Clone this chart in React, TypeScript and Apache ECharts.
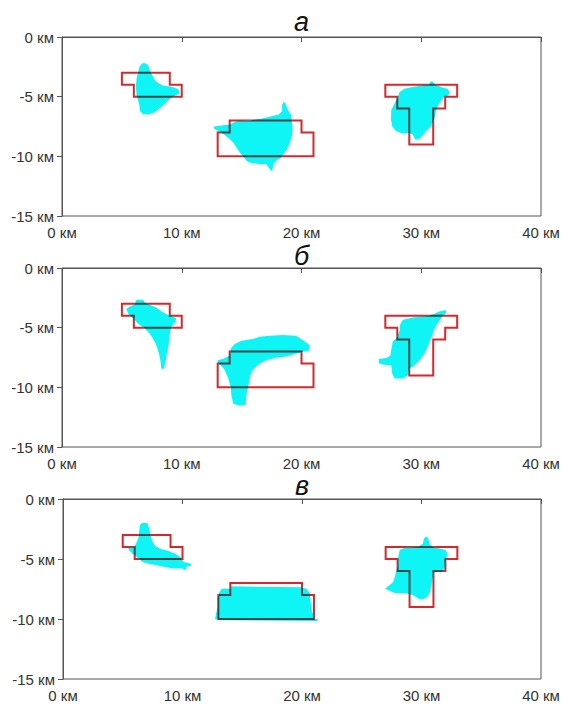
import React, { useEffect, useRef } from "react";
import * as echarts from "echarts";

// Panel titles
const panelTitles = ["а", "б", "в"];

// Axis ticks
const xTicks = [0, 10, 20, 30, 40];
const yTicks = [0, -5, -10, -15];

// True bodies (red outlines), km: [x, depth]
const body1Outline = [[5, -3], [9, -3], [9, -4], [10, -4], [10, -5], [6, -5], [6, -4], [5, -4]];
const body2Outline = [[14, -7], [20, -7], [20, -8], [21, -8], [21, -10], [13, -10], [13, -8], [14, -8]];
const body3Outline = [[27, -4], [33, -4], [33, -5], [32, -5], [32, -6], [31, -6], [31, -9], [29, -9], [29, -6], [28, -6], [28, -5], [27, -5]];

// Panel а: recovered bodies (cyan)
const blobA1 = [[6.91, -2.21], [7.19, -2.34], [7.32, -2.75], [7.46, -3.03], [7.73, -3.58], [8.0, -3.85], [8.42, -4.07], [9.23, -4.18], [9.73, -4.4], [9.84, -4.73], [9.37, -4.95], [8.96, -5.22], [8.55, -5.63], [8.14, -5.99], [7.73, -6.32], [7.32, -6.45], [6.78, -6.5], [6.5, -6.18], [6.45, -5.63], [6.23, -4.95], [6.17, -4.12], [6.23, -3.44], [6.37, -2.89], [6.5, -2.42], [6.72, -2.21]];
const blobA2 = [[12.7, -7.52], [12.7, -7.69], [13.06, -7.88], [13.33, -8.02], [13.6, -8.24], [13.97, -8.52], [14.3, -8.85], [14.57, -9.26], [14.85, -9.67], [15.18, -10.09], [15.54, -10.5], [16.5, -10.64], [17.05, -10.64], [17.33, -11.05], [17.55, -11.27], [17.66, -10.64], [17.88, -10.36], [18.3, -10.09], [18.71, -9.53], [18.99, -8.98], [19.2, -8.29], [19.26, -7.61], [19.12, -6.5], [18.85, -6.09], [18.71, -5.67], [18.52, -5.4], [18.38, -5.67], [18.38, -6.23], [18.1, -6.5], [17.47, -6.64], [16.92, -6.78], [15.68, -7.0], [14.57, -7.06], [14.0, -7.33], [13.33, -7.41], [12.8, -7.47]];
const blobA3 = [[30.94, -3.7], [31.07, -3.92], [31.62, -4.19], [32.17, -4.33], [32.37, -4.6], [32.26, -4.88], [31.9, -5.02], [31.49, -5.57], [31.21, -6.25], [31.07, -6.94], [30.8, -7.49], [30.39, -7.9], [30.06, -8.31], [29.78, -8.59], [29.5, -8.59], [29.28, -8.18], [29.01, -8.04], [28.46, -8.09], [27.91, -7.9], [27.58, -7.49], [27.47, -6.94], [27.5, -6.12], [27.77, -5.57], [28.05, -5.02], [28.18, -4.6], [28.6, -4.33], [29.28, -4.19], [30.11, -4.05], [30.66, -3.97], [30.8, -3.7]];

// Panel б
const blobB1 = [[6.23, -2.67], [6.78, -2.67], [6.91, -2.89], [7.32, -3.08], [7.87, -3.3], [8.28, -3.63], [8.69, -3.85], [9.23, -4.07], [9.56, -4.26], [9.45, -4.53], [9.23, -4.81], [9.1, -5.08], [8.96, -5.77], [8.91, -6.45], [8.74, -7.27], [8.63, -7.96], [8.47, -8.51], [8.28, -8.37], [8.23, -7.82], [8.09, -7.14], [7.87, -6.45], [7.6, -5.9], [7.27, -5.44], [6.91, -5.08], [6.37, -4.67], [5.96, -4.26], [5.55, -3.85], [5.36, -3.44], [5.63, -3.25], [6.09, -3.03], [6.17, -2.75]];
const blobB2 = [[14.43, -6.37], [14.99, -6.09], [15.95, -5.95], [16.5, -5.76], [17.33, -5.68], [18.43, -5.62], [19.54, -5.68], [19.95, -5.95], [20.37, -6.23], [20.7, -6.5], [20.64, -6.92], [20.23, -7.0], [19.54, -7.19], [18.71, -7.41], [17.88, -7.52], [17.06, -7.74], [16.5, -8.02], [16.09, -8.35], [15.81, -8.71], [15.68, -9.26], [15.54, -9.95], [15.4, -10.64], [15.34, -11.46], [14.85, -11.55], [14.3, -11.38], [14.16, -10.77], [14.08, -9.95], [13.88, -9.26], [13.6, -8.57], [13.33, -8.24], [13.06, -8.02], [13.0, -7.74], [13.47, -7.61], [14.02, -7.33], [14.08, -6.78], [14.3, -6.5]];
const blobB3 = [[32.04, -3.51], [32.09, -3.78], [31.76, -4.05], [31.49, -4.47], [31.21, -4.88], [30.99, -5.43], [30.72, -6.12], [30.52, -6.66], [30.25, -7.21], [29.84, -7.76], [29.42, -8.18], [29.01, -8.45], [28.87, -9.0], [28.46, -9.27], [27.77, -9.27], [27.58, -8.86], [27.5, -8.18], [26.81, -8.09], [26.45, -7.98], [26.45, -7.63], [27.08, -7.54], [27.41, -7.35], [27.5, -6.8], [27.63, -6.12], [27.96, -5.84], [28.18, -5.29], [28.24, -4.74], [28.46, -4.33], [29.28, -4.14], [30.39, -4.05], [31.07, -3.86], [31.49, -3.64]];

// Panel в
const blobC1 = [[6.59, -2.0], [7.06, -2.0], [7.2, -2.41], [7.34, -3.08], [7.47, -3.49], [7.69, -3.89], [8.16, -4.16], [8.71, -4.3], [9.4, -4.57], [9.81, -4.84], [10.08, -5.24], [10.63, -5.38], [10.77, -5.54], [10.36, -5.65], [10.22, -5.97], [9.95, -5.78], [9.12, -5.78], [8.43, -5.65], [7.75, -5.51], [7.06, -5.38], [6.65, -5.24], [6.37, -4.97], [5.82, -4.57], [5.55, -4.3], [5.41, -4.03], [5.88, -4.08], [6.1, -3.76], [6.32, -3.22], [6.37, -2.68], [6.43, -2.19]];
const blobC2 = [[13.28, -7.47], [14.02, -7.47], [14.1, -7.28], [19.95, -7.36], [20.37, -7.47], [20.64, -7.83], [20.72, -8.52], [20.83, -9.34], [21.05, -9.95], [21.33, -10.03], [21.27, -10.17], [13.33, -10.11], [12.72, -10.03], [12.77, -9.75], [12.92, -9.07], [12.92, -8.24], [13.06, -7.83]];
const blobC3 = [[30.39, -3.11], [30.58, -3.31], [30.66, -3.72], [30.94, -4.0], [31.62, -4.14], [32.04, -4.28], [32.17, -4.56], [32.04, -5.11], [31.95, -5.67], [31.76, -6.08], [31.07, -6.08], [30.94, -6.5], [30.85, -7.19], [30.66, -7.89], [30.39, -8.22], [29.97, -8.39], [29.64, -8.22], [29.28, -8.03], [28.87, -7.89], [28.32, -7.83], [27.77, -7.83], [27.22, -7.61], [26.94, -7.47], [27.22, -7.28], [27.63, -6.92], [27.77, -6.5], [27.91, -5.94], [28.05, -5.39], [28.05, -4.83], [28.18, -4.22], [28.6, -4.06], [29.7, -4.0], [30.11, -3.72], [30.2, -3.31]];

const outlines = [body1Outline, body2Outline, body3Outline];
const panelBlobs = [
  [blobA1, blobA2, blobA3],
  [blobB1, blobB2, blobB3],
  [blobC1, blobC2, blobC3],
];

const RED = "#d6282c";
const CYAN = "#0ff5f5";
const DARK = "#3e4646";
const AXIS = "#555555";
const FONT = "'Liberation Sans', Arial, sans-serif";

const grids = [
  { left: 62, top: 37, width: 479, height: 179 },
  { left: 62, top: 268, width: 479, height: 179 },
  { left: 63, top: 499, width: 478, height: 180 },
];
const titleCenters = [22, 256, 486];

export default function App() {
  const ref = useRef<HTMLDivElement>(null);
  useEffect(() => {
    if (!ref.current) return;
    const chart = echarts.init(ref.current, null, { renderer: "svg" });

    const makeRender = (blobs: number[][][]) => (params: any, api: any) => {
      const i = params.dataIndex;
      const o = outlines[i].map((p) => api.coord(p));
      const b = blobs[i].map((p) => api.coord(p));
      return {
        type: "group",
        children: [
          { type: "polygon", shape: { points: o }, style: { fill: "none", stroke: RED, lineWidth: 2 } },
          { type: "polygon", shape: { points: b }, style: { fill: CYAN, stroke: "none" } },
          {
            type: "polygon",
            shape: { points: o },
            style: { fill: "none", stroke: DARK, lineWidth: 2 },
            clipPath: { type: "polygon", shape: { points: b } },
          },
        ],
      };
    };

    const axisCommon = {
      axisLine: { show: true, lineStyle: { color: AXIS, width: 1 } },
      axisTick: { show: true, length: 5, lineStyle: { color: AXIS } },
      splitLine: { show: false },
    };

    chart.setOption({
      animation: false,
      backgroundColor: "#ffffff",
      graphic: panelTitles.map((t, k) => ({
        type: "text",
        x: grids[k].left + grids[k].width / 2,
        y: titleCenters[k],
        style: {
          text: t,
          align: "center",
          verticalAlign: "middle",
          fontSize: 27,
          fontStyle: "italic",
          fontFamily: FONT,
          fill: "#111",
        },
      })),
      grid: grids.map((g) => ({ ...g, show: true, borderColor: AXIS, borderWidth: 1, backgroundColor: "transparent" })),
      xAxis: grids.map((_, k) => ({
        type: "value",
        gridIndex: k,
        min: xTicks[0],
        max: xTicks[xTicks.length - 1],
        interval: 10,
        ...axisCommon,
        axisLabel: { margin: 9, fontSize: 15, color: "#333", fontFamily: FONT, formatter: (v: number) => `${v} км` },
      })),
      yAxis: grids.map((_, k) => ({
        type: "value",
        gridIndex: k,
        min: yTicks[yTicks.length - 1],
        max: yTicks[0],
        interval: 5,
        ...axisCommon,
        axisLabel: { margin: 8, fontSize: 15, color: "#333", fontFamily: FONT, formatter: (v: number) => `${v} км` },
      })),
      series: panelBlobs.map((blobs, k) => ({
        type: "custom",
        xAxisIndex: k,
        yAxisIndex: k,
        silent: true,
        data: outlines.map((o) => o[0]),
        renderItem: makeRender(blobs),
      })),
    });
    return () => chart.dispose();
  }, []);
  return <div ref={ref} style={{ position: "fixed", left: 0, top: 0, width: 563, height: 704 }} />;
}
